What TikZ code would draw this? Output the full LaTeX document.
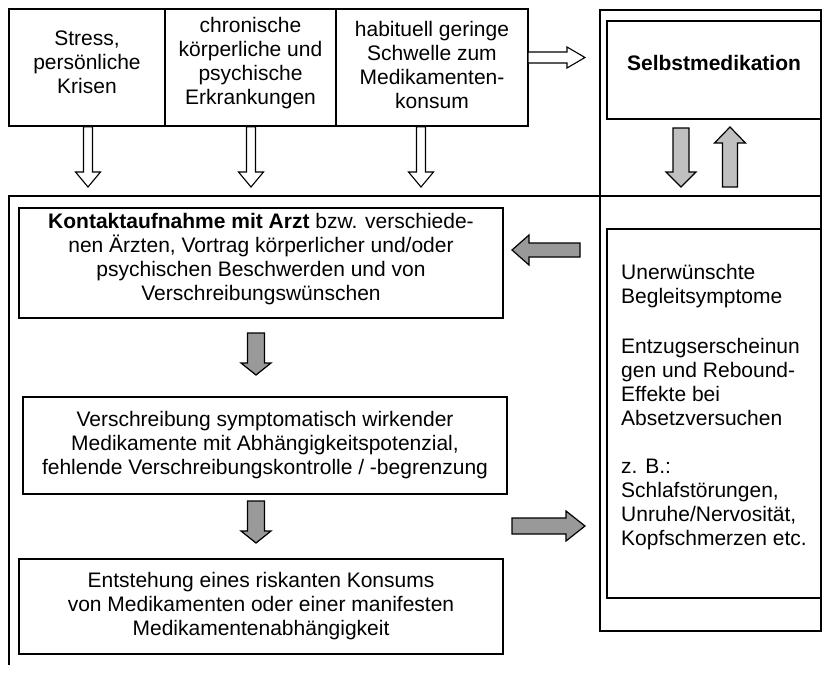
\documentclass[tikz,border=0pt]{standalone}
\usepackage{fontspec}
\setmainfont{Liberation Sans}
\usetikzlibrary{calc}
\definecolor{arrowlight}{HTML}{C0C0C0}
\definecolor{arrowdark}{HTML}{999999}
\newcommand{\dfont}{\fontsize{21}{24}\selectfont}
% #1 style, #2 start, #3 end, #4 shaft half width, #5 head half width, #6 head length
\newcommand{\blockarrow}[6]{%
  \path[#1] let \p1=(#2), \p2=(#3),
    \n1={atan2(\y2-\y1,\x2-\x1)}, \n2={veclen(\x2-\x1,\y2-\y1)} in
    [shift={(\p1)}, rotate=\n1]
    (0,-#4) -- (\n2-#6,-#4) -- (\n2-#6,-#5) -- (\n2,0) -- (\n2-#6,#5)
    -- (\n2-#6,#4) -- (0,#4) -- cycle;}
\tikzset{
  box/.style={draw, line width=1.5pt, align=center, inner sep=0pt, font=\dfont},
  txt/.style={align=center, inner sep=0pt, font=\dfont},
  frameline/.style={line width=1.5pt},
  hollow/.style={draw, fill=white, line width=1.1pt, line join=miter},
  lightar/.style={draw, fill=arrowlight, line width=1.2pt, line join=miter},
  darkar/.style={draw, fill=arrowdark, line width=1.2pt, line join=miter}
}
\begin{document}
\begin{tikzpicture}[x=1pt, y=-1pt]
\useasboundingbox (0,0) rectangle (822,675);

% frames
\draw[frameline] (600,10) rectangle (821,631);
\draw[frameline] (9,665) -- (9,196) -- (821,196);

% top boxes
\node[box, minimum width=156pt, minimum height=117pt] (b1) at (87,67.5) {};
\node[box, minimum width=171pt, minimum height=117pt] (b2) at (250.5,67.5) {};
\node[box, minimum width=192pt, minimum height=117pt] (b3) at (432,67.5) {};
\node[txt] (b1t) at ($(b1.center)+(0,-5)$) {Stress,\\persönliche\\Krisen};
\node[txt] (b2t) at ($(b2.center)+(0,-4)$) {chronische\\körperliche und\\psychische\\Erkrankungen};
\node[txt] (b3t) at ($(b3.center)+(0,-3)$) {habituell geringe\\Schwelle zum\\Medikamenten-\\konsum};

% Selbstmedikation
\node[box, minimum width=214pt, minimum height=98pt] (sm) at (714,70) {};
\node[txt, font=\dfont\bfseries] (smt) at (714,63) {Selbstmedikation};

% right inner box
\node[box, minimum width=214pt, minimum height=369pt] (rb) at (714,413.5) {};
\node[txt, align=left, anchor=north west] (rbt) at (621,264)
  {Unerwünschte\\Begleitsymptome\\[26pt]
   Entzugserscheinun\\gen und Rebound-\\Effekte bei\\Absetzversuchen\\[24pt]
   z. B.:\\Schlafstörungen,\\Unruhe/Nervosität,\\Kopfschmerzen etc.};

% main chain
\node[box, minimum width=484pt, minimum height=110pt] (k) at (261,263) {};
\node[txt] (kt) at ($(k.center)+(0,-4)$)
  {\textbf{Kontaktaufnahme mit Arzt} bzw. verschiede-\\nen Ärzten, Vortrag körperlicher und/oder\\psychischen Beschwerden und von\\Verschreibungswünschen};
\node[box, minimum width=484pt, minimum height=97pt] (v) at (265,445.5)
  {Verschreibung symptomatisch wirkender\\Medikamente mit Abhängigkeitspotenzial,\\fehlende Verschreibungskontrolle / -begrenzung};
\node[box, minimum width=484pt, minimum height=95pt] (e) at (261,606.5)
  {Entstehung eines riskanten Konsums\\von Medikamenten oder einer manifesten\\Medikamentenabhängigkeit};

% arrow end points
\coordinate (h1e) at (88,187);
\coordinate (h2e) at (251,187);
\coordinate (h3e) at (421,187);
\coordinate (h4s) at (528,57.5);
\coordinate (h4e) at (585,57.5);
\coordinate (s1s) at (681,128);
\coordinate (s1e) at (681,187);
\coordinate (s2s) at (730,187);
\coordinate (s2e) at (730,127);
\coordinate (g1s) at (580,250);
\coordinate (g1e) at (512,250);
\coordinate (g2s) at (256,333);
\coordinate (g2e) at (256,375);
\coordinate (g3s) at (256,501);
\coordinate (g3e) at (256,543);
\coordinate (g4s) at (512,526);
\coordinate (g4e) at (585,526);

% hollow arrows
\blockarrow{hollow}{b1.south -| h1e}{h1e}{4.5}{12.5}{15}
\blockarrow{hollow}{b2.south -| h2e}{h2e}{4.5}{12.5}{15}
\blockarrow{hollow}{b3.south -| h3e}{h3e}{4.5}{12.5}{15}
\blockarrow{hollow}{h4s}{h4e}{5.5}{10.5}{18}

% light grey arrows
\blockarrow{lightar}{s1s}{s1e}{8}{15}{15}
\blockarrow{lightar}{s2s}{s2e}{7.5}{15.5}{16}

% dark grey arrows
\blockarrow{darkar}{g1s}{g1e}{7}{15}{17}
\blockarrow{darkar}{g2s}{g2e}{8.5}{15}{12}
\blockarrow{darkar}{g3s}{g3e}{8.5}{15}{12}
\blockarrow{darkar}{g4s}{g4e}{8}{15}{19}
\end{tikzpicture}
\end{document}
